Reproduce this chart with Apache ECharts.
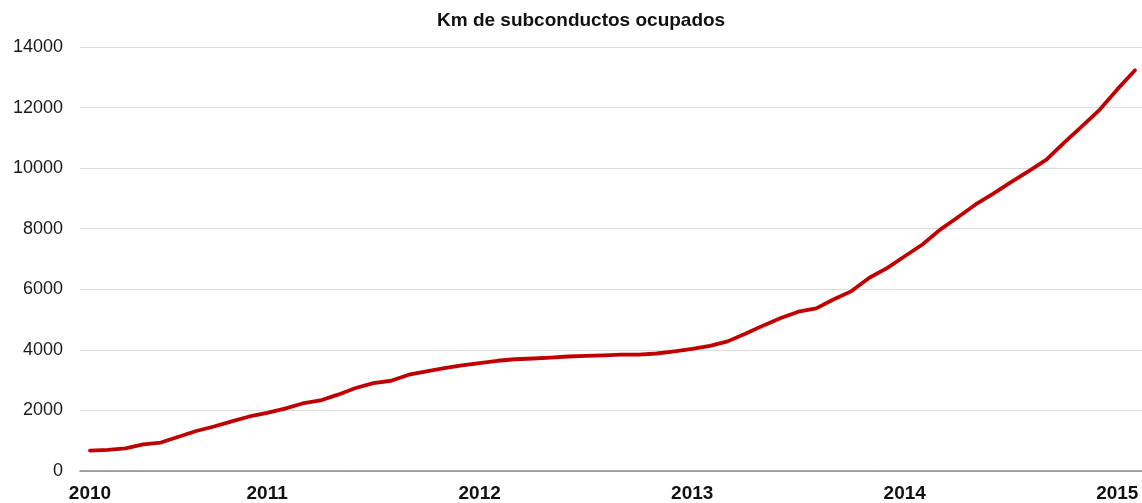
<!DOCTYPE html>
<html>
<head>
<meta charset="utf-8">
<script src="https://cdn.jsdelivr.net/npm/echarts@6/dist/echarts.min.js"></script>
<style>
  html, body { margin: 0; padding: 0; background: #fff; }
  #chart { width: 1142px; height: 503px; }
</style>
</head>
<body>
<div id="chart"></div>
<script>
// Monthly values, March 2010 (index 0) to February 2015 (index 59)
const monthIndex = Array.from({length: 60}, (_, i) => i);
const kmValues = [
  670, 700, 750, 880, 940, 1130, 1320, 1470, 1640, 1800,
  1920, 2060, 2230, 2330, 2520, 2740, 2900, 2980, 3180, 3290,
  3400, 3490, 3560, 3640, 3690, 3715, 3745, 3780, 3800, 3820,
  3840, 3845, 3880, 3950, 4030, 4130, 4280, 4530, 4800, 5050,
  5260, 5370, 5670, 5940, 6380, 6700, 7090, 7480, 7970, 8380,
  8800, 9160, 9540, 9900, 10280, 10840, 11380, 11925, 12600, 13230
];
const yearTickIndex = [0, 10, 22, 34, 46, 58];
const yearLabels = ['2010', '2011', '2012', '2013', '2014', '2015'];
const yTicks = [0, 2000, 4000, 6000, 8000, 10000, 12000, 14000];

const chart = echarts.init(document.getElementById('chart'), null, {renderer: 'canvas'});
chart.setOption({
  animation: false,
  backgroundColor: '#ffffff',
  title: {
    text: 'Km de subconductos ocupados',
    left: 437,
    top: 11,
    padding: 0,
    textStyle: {
      fontFamily: 'Liberation Sans, Arial, sans-serif',
      fontSize: 19,
      fontWeight: 'bold',
      color: '#111'
    }
  },
  grid: { left: 80, right: 0, top: 47, bottom: 31, containLabel: false },
  xAxis: {
    type: 'value',
    min: -0.565,
    max: 59.395,
    axisLine: { show: true, lineStyle: { color: '#888', width: 1.5 } },
    axisTick: { show: false },
    splitLine: { show: false },
    axisLabel: {
      customValues: yearTickIndex,
      formatter: (v) => yearLabels[yearTickIndex.indexOf(Math.round(v))] || '',
      margin: 13,
      fontFamily: 'Liberation Sans, Arial, sans-serif',
      fontSize: 19,
      fontWeight: 'bold',
      color: '#111'
    }
  },
  yAxis: {
    type: 'value',
    min: yTicks[0],
    max: yTicks[yTicks.length - 1],
    interval: 2000,
    axisLine: { show: false },
    axisTick: { show: false },
    splitLine: { show: true, lineStyle: { color: '#dcdcdc', width: 1 } },
    axisLabel: {
      margin: 17,
      formatter: (v) => String(v),
      fontFamily: 'Liberation Sans, Arial, sans-serif',
      fontSize: 18,
      color: '#1a1a1a'
    }
  },
  series: [{
    type: 'line',
    data: monthIndex.map((m, i) => [m, kmValues[i]]),
    showSymbol: false,
    symbol: 'none',
    lineStyle: { color: '#c00000', width: 3.8, cap: 'round', join: 'round' },
    itemStyle: { color: '#c00000' }
  }]
});
</script>
</body>
</html>
